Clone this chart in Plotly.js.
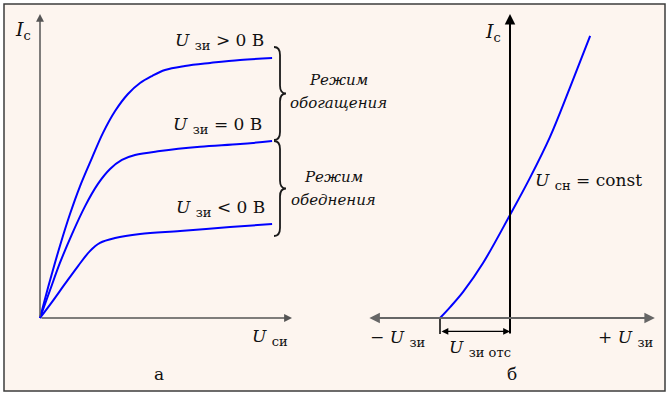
<!DOCTYPE html>
<html><head><meta charset="utf-8">
<script src="https://cdn.plot.ly/plotly-3.0.1.min.js"></script>
<style>html,body{margin:0;padding:0;background:#fff}</style>
</head><body><div id="chart" style="width:669px;height:394px"></div>
<script>
// Panel а: output characteristics I_с(U_си) for three gate voltages
const uSiHigh = [0, 0.24, 0.48, 0.79, 1.19, 1.59, 2.06, 2.50, 2.98, 3.49, 3.97, 4.44, 4.96, 5.75, 6.75, 7.94, 9.21];
const iHigh   = [0, 0.76, 1.48, 2.37, 3.42, 4.34, 5.26, 6.09, 6.81, 7.37, 7.73, 7.96, 8.16, 8.29, 8.39, 8.49, 8.55];
const uSiZero = [0, 0.40, 0.79, 1.27, 1.79, 2.30, 2.78, 3.25, 3.77, 4.76, 6.35, 7.94, 9.21];
const iZero   = [0, 0.92, 1.81, 2.76, 3.68, 4.41, 4.90, 5.20, 5.36, 5.49, 5.63, 5.72, 5.82];
const uSiLow  = [0, 0.48, 0.99, 1.51, 1.98, 2.38, 2.98, 3.97, 5.56, 7.54, 9.21];
const iLow    = [0, 0.53, 1.12, 1.71, 2.20, 2.47, 2.63, 2.76, 2.86, 2.99, 3.09];
// Panel б: transfer characteristic I_с(U_зи)
const uZi       = [-2, -1.71, -1.34, -0.77, 0, 0.57, 1.14, 1.71, 2.29];
const iTransfer = [0, 0.36, 0.86, 1.81, 3.39, 4.61, 5.95, 7.57, 9.28];
const uZiCutoff = -2;
const curveLabels = ['&gt; 0 В', '= 0 В', '&lt; 0 В'];

const W = 669, H = 394;
const F = 'DejaVu Serif';
const px = x => x / W, py = y => 1 - y / H;
const sub = s => '<sub><span style="font-size:13px">' + s + '</span></sub>';
const U = s => '<i>U</i> ' + sub(s);

const blue = {color: '#0000ff', width: 2, shape: 'spline', smoothing: 1};
const traces = [
  {x: uSiHigh, y: iHigh, mode: 'lines', line: blue, xaxis: 'x', yaxis: 'y', hoverinfo: 'skip'},
  {x: uSiZero, y: iZero, mode: 'lines', line: blue, xaxis: 'x', yaxis: 'y', hoverinfo: 'skip'},
  {x: uSiLow, y: iLow, mode: 'lines', line: blue, xaxis: 'x', yaxis: 'y', hoverinfo: 'skip'},
  {x: uZi, y: iTransfer, mode: 'lines', line: blue, xaxis: 'x2', yaxis: 'y2', hoverinfo: 'skip'}
];

const hid = {visible: false, fixedrange: true};
function axX(p0, p1, zeroPx, scale) { return Object.assign({domain: [px(p0), px(p1)], range: [(p0 - zeroPx) / scale, (p1 - zeroPx) / scale]}, hid); }
function axY(p0, p1, zeroPx, scale) { return Object.assign({domain: [py(p0), py(p1)], range: [(zeroPx - p0) / scale, (zeroPx - p1) / scale]}, hid); }

function arrow(xr, yr, x, y, ax, ay, color, width, side) {
  return {xref: xr, yref: yr, axref: xr, ayref: yr, x: x, y: y, ax: ax, ay: ay, text: '',
    showarrow: true, arrowhead: 2, startarrowhead: 2, arrowsize: 1.05, startarrowsize: 1.05,
    arrowwidth: width, arrowcolor: color, arrowside: side || 'end', standoff: 0, startstandoff: 0};
}
function label(text, x, y, size, extra) {
  return Object.assign({xref: 'paper', yref: 'paper', x: px(x), y: py(y), text: text, showarrow: false,
    xanchor: 'center', yanchor: 'middle', font: {family: F, size: size, color: '#111'}}, extra || {});
}

const annotations = [
  arrow('x', 'y', 0, 10, 0, 0, '#555', 1.5),
  arrow('x', 'y', 10, 0, 0, 0, '#555', 1.5),
  arrow('x2', 'y2', 0, 10, 0, -0.56, '#000', 2),
  arrow('x2', 'y2', 4.14, 0, -4.06, 0, '#666', 2, 'end+start'),
  arrow('x2', 'y2', 0, -0.44, uZiCutoff, -0.44, '#000', 1.3, 'end+start'),
  label('<i>I</i>' + sub('с'), 23, 30, 19),
  label('<i>I</i>' + sub('с'), 493, 32, 19),
  label(U('зи') + ' ' + curveLabels[0], 219, 42, 17),
  label(U('зи') + ' ' + curveLabels[1], 218, 125, 17),
  label(U('зи') + ' ' + curveLabels[2], 220, 208, 17),
  label('<i>Режим</i>', 338, 80, 15),
  label('<i>обогащения</i>', 338, 103, 15),
  label('<i>Режим</i>', 333, 177, 15),
  label('<i>обеднения</i>', 333, 200, 15),
  label(U('си'), 270, 337, 17),
  label('а', 159, 374, 17),
  label(U('сн') + ' = const', 588, 181, 17),
  label('− ' + U('зи'), 397, 338, 17),
  label(U('зи отс'), 480, 348, 17),
  label('+ ' + U('зи'), 625, 338, 17),
  label('б', 512, 374, 17)
];

function bracePath(xTip, xMid, xPeak, y0, y1) {
  const m = (y0 + y1) / 2, r = 8;
  const P = (x, y) => px(x).toFixed(5) + ',' + py(y).toFixed(5);
  return 'M' + P(xTip, y0) + ' Q' + P(xMid, y0) + ' ' + P(xMid, y0 + r) +
    ' L' + P(xMid, m - r) + ' Q' + P(xMid, m) + ' ' + P(xPeak, m) +
    ' Q' + P(xMid, m) + ' ' + P(xMid, m + r) +
    ' L' + P(xMid, y1 - r) + ' Q' + P(xMid, y1) + ' ' + P(xTip, y1);
}

const shapes = [
  {type: 'rect', xref: 'paper', yref: 'paper', x0: px(4), x1: px(665), y0: py(391), y1: py(4),
   fillcolor: '#fdf5ef', line: {color: '#3c3c3c', width: 1.5}, layer: 'below'},
  {type: 'path', xref: 'paper', yref: 'paper', path: bracePath(274, 280, 286, 47, 140), line: {color: '#1a1a1a', width: 1.8}},
  {type: 'path', xref: 'paper', yref: 'paper', path: bracePath(274, 280, 286, 141, 236), line: {color: '#1a1a1a', width: 1.8}},
  {type: 'line', xref: 'x2', yref: 'y2', x0: uZiCutoff, x1: uZiCutoff, y0: 0, y1: -0.53, line: {color: '#000', width: 1.5}}
];

const layout = {
  width: W, height: H, margin: {l: 0, r: 0, t: 0, b: 0},
  paper_bgcolor: '#ffffff', plot_bgcolor: 'rgba(0,0,0,0)', showlegend: false,
  font: {family: F},
  xaxis: axX(4, 360, 40, 25.2), yaxis: axY(391, 4, 318, 30.4),
  xaxis2: Object.assign(axX(362, 665, 510, 35), {anchor: 'y2'}),
  yaxis2: Object.assign(axY(391, 4, 318, 30.4), {anchor: 'x2'}),
  annotations: annotations, shapes: shapes
};
layout.yaxis.anchor = 'x';
layout.xaxis.anchor = 'y';

Plotly.newPlot('chart', traces, layout, {staticPlot: true, displayModeBar: false});
</script></body></html>
